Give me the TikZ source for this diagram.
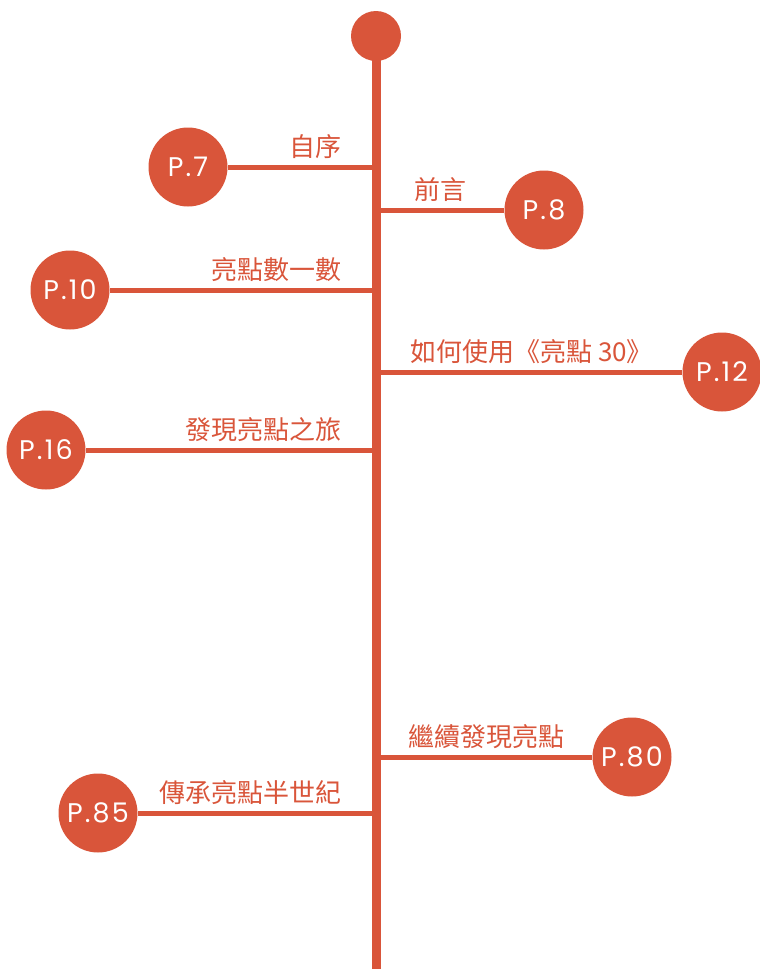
\documentclass[tikz,border=0pt]{standalone}
\usepackage{fontspec}
\setmainfont{Poppins}
\newfontfamily\pagefont[LetterSpace=8]{Poppins}
\newfontfamily\cjk{Noto Sans CJK TC}
\definecolor{brick}{HTML}{D9553A}
\tikzset{
  page/.style={circle,fill=brick,minimum size=79pt,inner sep=0pt,
    text=white,font=\pagefont\fontsize{27}{27}\selectfont},
  title/.style={text=brick,inner sep=0pt,font=\cjk\fontsize{26}{26}\selectfont},
  spine/.style={brick,line width=9pt},
  branch/.style={brick,line width=5pt}
}

\begin{document}
\begin{tikzpicture}[x=1pt,y=-1pt]
\useasboundingbox (0,0) rectangle (760,969);

% main line
\node[circle,fill=brick,minimum size=50pt,inner sep=0pt] (top) at (376,36) {};
\coordinate (bottom) at (376,969);
\draw[spine] (top.center) -- (bottom);

% left side
\coordinate (s7) at (376,167);
\node[page] (p7) at (188,167) {P.7};
\draw[branch] (s7) -- (p7);
\node[title,anchor=base east] (t7) at (342,156) {自序};

\coordinate (s10) at (376,290);
\node[page] (p10) at (70,290) {P.10};
\draw[branch] (s10) -- (p10);
\node[title,anchor=base east] (t10) at (342,279) {亮點數一數};

\coordinate (s16) at (376,450);
\node[page] (p16) at (46,450) {P.16};
\draw[branch] (s16) -- (p16);
\node[title,anchor=base east] (t16) at (342,439) {發現亮點之旅};

\coordinate (s85) at (376,813);
\node[page] (p85) at (98,813) {P.85};
\draw[branch] (s85) -- (p85);
\node[title,anchor=base east] (t85) at (342,802) {傳承亮點半世紀};

% right side
\coordinate (s8) at (376,210);
\node[page] (p8) at (544,210) {P.8};
\draw[branch] (s8) -- (p8);
\node[title,anchor=base west] (t8) at (414,199) {前言};

\coordinate (s12) at (376,372);
\node[page] (p12) at (722,372) {P.12};
\draw[branch] (s12) -- (p12);
\node[title,anchor=base west] (t12) at (410,361) {如何使用《亮點 30》};

\coordinate (s80) at (376,757);
\node[page] (p80) at (632,757) {P.80};
\draw[branch] (s80) -- (p80);
\node[title,anchor=base west] (t80) at (408,746) {繼續發現亮點};

\end{tikzpicture}
\end{document}
